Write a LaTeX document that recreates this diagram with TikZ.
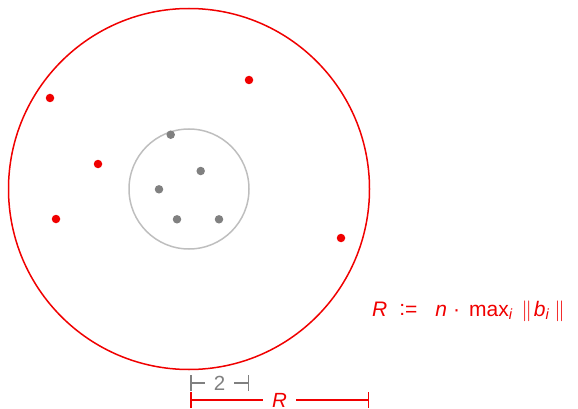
\documentclass[tikz,border=0pt]{standalone}
\usepackage{fontspec}
\setmainfont{Liberation Sans}
\usetikzlibrary{arrows.meta}
\definecolor{myred}{RGB}{240,0,0}
\definecolor{mygray}{RGB}{128,128,128}
\definecolor{lightgray2}{RGB}{190,190,190}
\newcommand{\dbar}{\(\big\|\)}
\tikzset{
  reddot/.style={circle,fill=myred,inner sep=0pt,minimum size=8.5pt},
  graydot/.style={circle,fill=mygray,inner sep=0pt,minimum size=8.5pt},
  bigcirc/.style={circle,draw=myred,line width=1.5pt,inner sep=0pt,minimum size=361pt},
  smallcirc/.style={circle,draw=lightgray2,line width=1.5pt,inner sep=0pt,minimum size=120pt},
  dimbar/.style={line width=1.5pt,{Bar[width=16pt,line width=1.5pt]}-{Bar[width=16pt,line width=1.5pt]}},
  dimlabel/.style={fill=white,inner xsep=9pt,inner ysep=0pt,font=\fontsize{20.5}{20.5}\selectfont},
}
\begin{document}
\begin{tikzpicture}[x=1pt,y=-1pt]
\useasboundingbox (0,0) rectangle (578,409);
\node[bigcirc] (big) at (189,189) {};
\node[smallcirc] (small) at (189,189) {};
% gray dots
\node[graydot] (g1) at (170.7,134.7) {};
\node[graydot] (g2) at (200.7,171) {};
\node[graydot] (g3) at (159,189.3) {};
\node[graydot] (g4) at (177,219.3) {};
\node[graydot] (g5) at (219,219.3) {};
% red dots
\node[reddot] (r1) at (50,98) {};
\node[reddot] (r2) at (249,80) {};
\node[reddot] (r3) at (98,164) {};
\node[reddot] (r4) at (56,219) {};
\node[reddot] (r5) at (341,238) {};
% label
\node[anchor=base west,text=myred,inner sep=0pt,font=\fontsize{21}{21}\selectfont] (lbl) at (372,316)
  {\itshape R\upshape\hspace{12pt}\raisebox{1pt}{:}=\hspace{18pt}\itshape n\upshape\hspace{6pt}·\hspace{9pt}max\textsubscript{\itshape i}\hspace{9pt}\dbar\hspace{2pt}\itshape b\textsubscript{i}\upshape\hspace{5pt}\dbar};
% dimension bars
\coordinate (a1) at (190,383);
\coordinate (a2) at (249,383);
\draw[dimbar,draw=mygray] (a1) -- (a2) node[midway,dimlabel,text=mygray] (two) {2};
\coordinate (b1) at (190,400);
\coordinate (b2) at (369,400);
\draw[dimbar,draw=myred] (b1) -- (b2) node[midway,dimlabel,text=myred] (rr) {\itshape R};
\end{tikzpicture}
\end{document}
